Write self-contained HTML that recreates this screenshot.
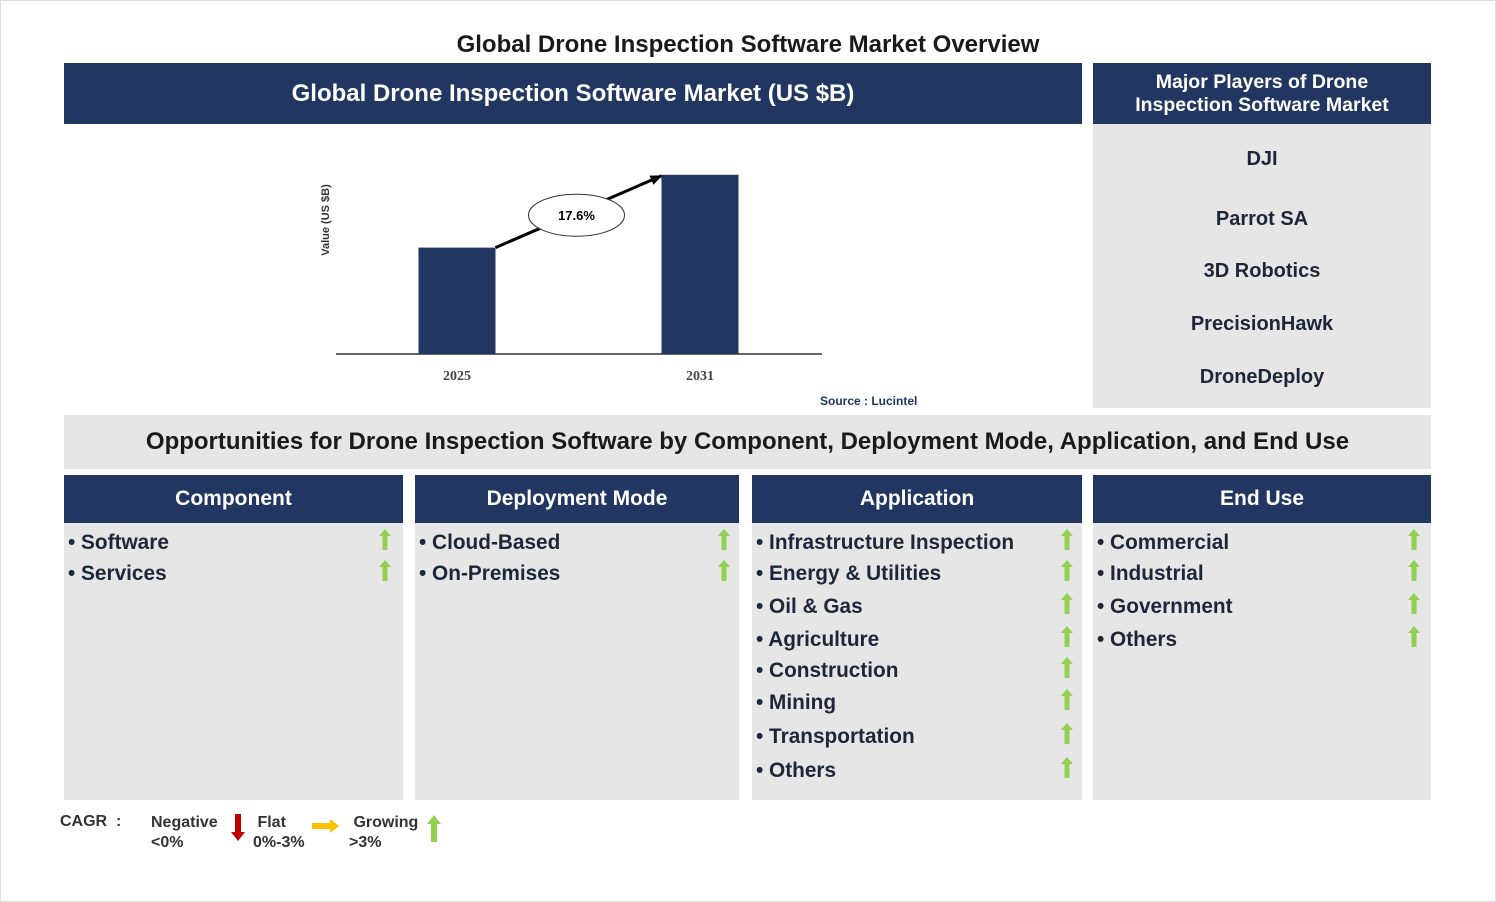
<!DOCTYPE html>
<html><head><meta charset="utf-8"><style>
body{margin:0;width:1496px;height:902px;background:#fff;font-family:"Liberation Sans",Arial,sans-serif;position:relative;overflow:hidden}
.a{position:absolute}
.navy{background:#213661;color:#fff;font-weight:bold;display:flex;align-items:center;justify-content:center;text-align:center}
.gray{background:#e6e6e6}
.t{position:absolute;font-weight:bold;color:#1e2638;font-size:20.8px;white-space:nowrap;line-height:1}
.pl{position:absolute;left:1093px;width:338px;text-align:center;font-weight:bold;color:#1e2638;font-size:20px;line-height:1}
</style></head><body>
<div class="a" style="left:0;top:0;width:1494px;height:900px;border:1px solid #ddd"></div>
<div class="a" style="left:0;width:1496px;top:31px;text-align:center;font-weight:bold;font-size:24px;color:#1a1a1a">Global Drone Inspection Software Market Overview</div>
<div class="a navy" style="left:64px;top:63px;width:1018px;height:61px;font-size:24px">Global Drone Inspection Software Market (US $B)</div>
<div class="a navy" style="left:1093px;top:63px;width:338px;height:61px;font-size:19.5px;line-height:23px">Major Players of Drone<br>Inspection Software Market</div>
<div class="a gray" style="left:1093px;top:124px;width:338px;height:284px"></div>
<div class="pl" style="top:149px">DJI</div>
<div class="pl" style="top:209px">Parrot SA</div>
<div class="pl" style="top:261px">3D Robotics</div>
<div class="pl" style="top:314px">PrecisionHawk</div>
<div class="pl" style="top:367px">DroneDeploy</div>

<svg class="a" style="left:0;top:0" width="1496" height="420" id="chart">
<defs><marker id="ah" markerUnits="userSpaceOnUse" markerWidth="12" markerHeight="10" refX="11" refY="5" orient="auto"><path d="M0,0 L12,5 L0,10 z" fill="#000"/></marker></defs>
<text transform="translate(329,220) rotate(-90)" text-anchor="middle" font-size="11" font-weight="bold" fill="#333" font-family="Liberation Sans">Value (US $B)</text>
<line x1="336" y1="354" x2="822" y2="354" stroke="#333" stroke-width="1.5"/>
<g id="bars"></g>
<text x="820" y="405" font-size="12" font-weight="bold" fill="#1f3560" font-family="Liberation Sans">Source : Lucintel</text>
</svg>

<div class="a gray" style="left:64px;top:415px;width:1367px;height:54px;display:flex;align-items:center;justify-content:center;font-weight:bold;font-size:24px;color:#1a1a1a">Opportunities for Drone Inspection Software by Component, Deployment Mode, Application, and End Use</div>

<div class="a navy" style="left:64px;top:475px;width:339px;height:48px;font-size:21px">Component</div>
<div class="a navy" style="left:415px;top:475px;width:324px;height:48px;font-size:21px">Deployment Mode</div>
<div class="a navy" style="left:752px;top:475px;width:330px;height:48px;font-size:21px">Application</div>
<div class="a navy" style="left:1093px;top:475px;width:338px;height:48px;font-size:21px">End Use</div>
<div class="a gray" style="left:64px;top:523px;width:339px;height:277px"></div>
<div class="a gray" style="left:415px;top:523px;width:324px;height:277px"></div>
<div class="a gray" style="left:752px;top:523px;width:330px;height:277px"></div>
<div class="a gray" style="left:1093px;top:523px;width:338px;height:277px"></div>
<div id="items"></div>

<div class="t" style="left:60px;top:814px;font-size:16px;color:#333">CAGR &nbsp;:</div>
<div class="t" style="left:151px;top:813px;font-size:16px;color:#333;line-height:20px">Negative<br>&lt;0%</div>
<svg class="a" style="left:230px;top:814px" width="16" height="28"><path d="M5,0 H11 V18 H15 L8,27 L1,18 H5 Z" fill="#c00000"/></svg>
<div class="t" style="left:253px;top:813px;font-size:16px;color:#333;line-height:20px">&nbsp;Flat<br>0%-3%</div>
<svg class="a" style="left:312px;top:818px" width="28" height="16"><path d="M0,5 H18 V1 L27,8 L18,15 V11 H0 Z" fill="#ffc000"/></svg>
<div class="t" style="left:349px;top:813px;font-size:16px;color:#333;line-height:20px">&nbsp;Growing<br>&gt;3%</div>
<svg class="a" style="left:426px;top:815px" width="16" height="28"><path d="M5,27 H11 V9 H15 L8,0 L1,9 H5 Z" fill="#92d050"/></svg>

<script>
const years = ['2025','2031'];
const values = [1.9, 3.2];
const cagrLabel = '17.6%';
const g = document.getElementById('bars');
const NS = 'http://www.w3.org/2000/svg';
const baseY = 354, pxPer = 56;
const xCenter = i => 457 + i * 243;
const yPos = v => baseY - v * pxPer;
const bw = 77;
years.forEach((yr, i) => {
  const r = document.createElementNS(NS, 'rect');
  
  
  r.setAttribute('x', xCenter(i) - bw / 2);
  r.setAttribute('y', yPos(values[i]));
  r.setAttribute('width', bw);
  r.setAttribute('height', baseY - yPos(values[i]));
  r.setAttribute('fill', '#213661');
  g.appendChild(r);
  const t = document.createElementNS(NS, 'text');
  
  
  t.setAttribute('x', xCenter(i));
  t.setAttribute('y', 380);
  t.setAttribute('text-anchor', 'middle');
  t.setAttribute('font-size', '14');
  t.setAttribute('font-weight', 'bold');
  t.setAttribute('fill', '#444');
  t.setAttribute('font-family', 'Liberation Serif');
  t.textContent = yr;
  g.appendChild(t);
});
const x1 = xCenter(0) + bw / 2, y1 = yPos(values[0]);
const x2 = xCenter(1) - bw / 2, y2 = yPos(values[1]);
const ln = document.createElementNS(NS, 'line');


ln.setAttribute('x1', x1); ln.setAttribute('y1', y1);
ln.setAttribute('x2', x2); ln.setAttribute('y2', y2 + 1);
ln.setAttribute('stroke', '#000'); ln.setAttribute('stroke-width', '3');
ln.setAttribute('marker-end', 'url(#ah)');
g.appendChild(ln);
const cx = (x1 + x2) / 2 - 2, cy = (y1 + y2) / 2 + 4;
const el = document.createElementNS(NS, 'ellipse');


el.setAttribute('cx', cx); el.setAttribute('cy', cy);
el.setAttribute('rx', 48); el.setAttribute('ry', 21);
el.setAttribute('fill', '#fff'); el.setAttribute('stroke', '#333');
g.appendChild(el);
const ct = document.createElementNS(NS, 'text');


ct.setAttribute('x', cx); ct.setAttribute('y', cy + 5);
ct.setAttribute('text-anchor', 'middle');
ct.setAttribute('font-size', '13'); ct.setAttribute('font-weight', 'bold');
ct.setAttribute('font-family', 'Liberation Sans');
ct.textContent = cagrLabel;
g.appendChild(ct);

const cols = [
  {x:68, ax:385, items:['Software','Services'], ys:[543,574]},
  {x:419, ax:724, items:['Cloud-Based','On-Premises'], ys:[543,574]},
  {x:756, ax:1067, items:['Infrastructure Inspection','Energy & Utilities','Oil & Gas','Agriculture','Construction','Mining','Transportation','Others'], ys:[543,574,607,640,671,703,737,771]},
  {x:1097, ax:1414, items:['Commercial','Industrial','Government','Others'], ys:[543,574,607,640]}
];
const box = document.getElementById('items');
cols.forEach(c => {
  c.items.forEach((it, k) => {
    const d = document.createElement('div');
    d.className = 't';
    
    
    d.style.left = c.x + 'px';
    d.style.top = (c.ys[k] - 10) + 'px';
    d.textContent = '\u2022 ' + it;
    box.appendChild(d);
    const s = document.createElementNS(NS, 'svg');
    
    
    s.setAttribute('width', '14'); s.setAttribute('height', '22');
    s.style.position = 'absolute';
    s.style.left = (c.ax - 7) + 'px';
    s.style.top = (c.ys[k] - 14) + 'px';
    s.innerHTML = '<path d="M4.5,21 H9.5 V7 H13 L7,0 L1,7 H4.5 Z" fill="#92d050"/>';
    box.appendChild(s);
  });
});
</script>
</body></html>
